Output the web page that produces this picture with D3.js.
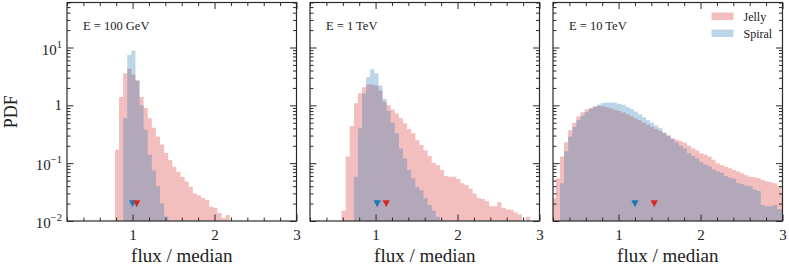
<!DOCTYPE html>
<html><head><meta charset="utf-8">
<script src="https://cdn.jsdelivr.net/npm/d3@7"></script>
<style>
body{margin:0;background:#fff}
svg text{font-family:"Liberation Serif","Times New Roman",serif;fill:#222}
</style></head><body><svg id="c" width="789" height="271"></svg>
<script>
// ---------- data ----------
const panelTitles = ["E = 100 GeV", "E = 1 TeV", "E = 10 TeV"];
const seriesNames = ["Jelly", "Spiral"];
const binWidth = 0.05;

const jelly100Start = 0.785;
const jelly100 = [0.17, 1.4, 3.6, 4.3, 3.4, 2.7, 1.4, 0.9, 0.6, 0.41, 0.29, 0.21, 0.15, 0.113, 0.087, 0.071, 0.058, 0.048, 0.039, 0.030, 0.028, 0.025, 0.023, 0.0177, 0.017, 0.0137, 0.0113, 0.0127];
const spiral100Start = 0.885;
const spiral100 = [0.6, 7.4, 8.8, 2.7, 1.0, 0.38, 0.14, 0.075, 0.04, 0.02, 0.012];

const jelly1Start = 0.585;
const jelly1 = [0.015, 0.13, 0.44, 1.09, 1.62, 2.06, 2.3, 2.3, 2.2, 1.8, 1.15, 1.0, 0.85, 0.72, 0.60, 0.49, 0.39, 0.33, 0.25, 0.207, 0.165, 0.133, 0.102, 0.093, 0.076, 0.060, 0.058, 0.058, 0.053, 0.045, 0.042, 0.036, 0.030, 0.025, 0.024, 0.022, 0.018, 0.018, 0.021, 0.017, 0.016, 0.0155, 0.014, 0.013, 0.0095, 0.0118];
const spiral1Start = 0.735;
const spiral1 = [0.058, 0.40, 1.6, 3.1, 4.2, 3.6, 2.2, 1.3, 0.8, 0.5, 0.33, 0.18, 0.12, 0.076, 0.055, 0.039, 0.034, 0.025, 0.019, 0.015, 0.0118];

const jelly10Start = 0.185;
const jelly10 = [0.025, 0.055, 0.13, 0.23, 0.37, 0.50, 0.64, 0.76, 0.85, 0.90, 0.95, 0.97, 0.96, 0.93, 0.89, 0.84, 0.80, 0.75, 0.70, 0.65, 0.60, 0.55, 0.50, 0.46, 0.42, 0.39, 0.36, 0.33, 0.30, 0.27, 0.255, 0.24, 0.226, 0.20, 0.18, 0.165, 0.148, 0.14, 0.13, 0.115, 0.10, 0.093, 0.087, 0.082, 0.076, 0.072, 0.067, 0.062, 0.058, 0.057, 0.055, 0.051, 0.048, 0.047, 0.045, 0.040, 0.030, 0.031];
const spiral10Start = 0.285;
const spiral10 = [0.045, 0.16, 0.29, 0.42, 0.55, 0.66, 0.76, 0.86, 0.95, 1.03, 1.10, 1.12, 1.12, 1.11, 1.07, 1.02, 0.94, 0.86, 0.78, 0.70, 0.62, 0.55, 0.50, 0.45, 0.40, 0.34, 0.30, 0.26, 0.23, 0.20, 0.18, 0.15, 0.135, 0.12, 0.105, 0.095, 0.088, 0.078, 0.072, 0.068, 0.060, 0.056, 0.054, 0.045, 0.043, 0.041, 0.040, 0.035, 0.033, 0.019, 0.018, 0.018, 0.019, 0.016, 0.016];

const medianJelly = [1.05, 1.13, 1.435];
const medianSpiral = [1.0, 1.02, 1.2];
const markerLevel = 0.02;

const xTickValues = [1, 2, 3];
const yTickValues = [0.01, 0.1, 1, 10];
const yTickBase = ["10", "10", "1", "10"];
const yTickExp = ["\u22122", "\u22121", "", "1"];
const xDomain = [0.2, 3];
const yDomain = [0.01, 60];
const xLabel = "flux / median";
const yLabel = "PDF";

const jellyData = [[jelly100Start, jelly100], [jelly1Start, jelly1], [jelly10Start, jelly10]];
const spiralData = [[spiral100Start, spiral100], [spiral1Start, spiral1], [spiral10Start, spiral10]];

// ---------- layout ----------
const colJelly = "#d62728", colSpiral = "#1f77b4";
const panelLeft = [67, 310, 553];
const panelW = 229.5, plotTop = 2.5, plotBottom = 221;
const svg = d3.select("#c");
const axisCol = "#2a2a2a";

const y = d3.scaleLog().domain(yDomain).range([plotBottom, plotTop]);
const minorX = d3.range(0.2, 3.0001, 0.2).map(v => +v.toFixed(2)).filter(v => Math.abs(v - Math.round(v)) > 1e-6);
const minorY = [];
[0.01, 0.1, 1, 10].forEach(d => { for (let k = 2; k <= 9; k++) { const v = k * d; if (v <= yDomain[1]) minorY.push(v); } });

function histPath(start, vals, x) {
  const floor = 1e-3;
  const pts = [[start, floor]];
  vals.forEach((v, i) => {
    const a = start + i * binWidth, b = a + binWidth, vv = v > 0 ? v : floor;
    pts.push([a, vv], [b, vv]);
  });
  pts.push([start + vals.length * binWidth, floor]);
  return d3.line().x(d => x(d[0])).y(d => y(d[1]))(pts) + "Z";
}

function styleAxis(g) {
  g.select(".domain").remove();
  g.selectAll(".tick line").attr("stroke", axisCol).attr("stroke-width", 1);
}

panelTitles.forEach((title, p) => {
  const x0 = panelLeft[p];
  const x = d3.scaleLinear().domain(xDomain).range([x0, x0 + panelW]);
  const g = svg.append("g");
  const clipId = "clip" + p;
  svg.append("clipPath").attr("id", clipId).append("rect")
    .attr("x", x0).attr("y", plotTop).attr("width", panelW).attr("height", plotBottom - plotTop);

  const hg = g.append("g").attr("clip-path", `url(#${clipId})`);
  hg.append("path").attr("d", histPath(jellyData[p][0], jellyData[p][1], x))
    .attr("fill", colJelly).attr("fill-opacity", 0.3);
  hg.append("path").attr("d", histPath(spiralData[p][0], spiralData[p][1], x))
    .attr("fill", colSpiral).attr("fill-opacity", 0.3);

  // markers (downward triangles)
  const tri = (cx, cy) => `M${cx - 3.6},${cy - 3.4}L${cx + 3.6},${cy - 3.4}L${cx},${cy + 3.6}Z`;
  g.append("path").attr("d", tri(x(medianSpiral[p]), y(markerLevel))).attr("fill", colSpiral);
  g.append("path").attr("d", tri(x(medianJelly[p]), y(markerLevel))).attr("fill", colJelly);

  // x axes
  const gb = g.append("g").attr("transform", `translate(0,${plotBottom})`)
    .call(d3.axisBottom(x).tickValues(xTickValues).tickSize(-6.5).tickFormat(d3.format("d")));
  styleAxis(gb);
  gb.selectAll("text").attr("y", 19).attr("dy", 0).attr("font-size", 15).attr("font-family", "Liberation Serif").attr("fill", "#222");
  const gbm = g.append("g").attr("transform", `translate(0,${plotBottom})`)
    .call(d3.axisBottom(x).tickValues(minorX).tickSize(-3.5).tickFormat(""));
  styleAxis(gbm);
  const gt = g.append("g").attr("transform", `translate(0,${plotTop})`)
    .call(d3.axisTop(x).tickValues(xTickValues).tickSize(-6.5).tickFormat(""));
  styleAxis(gt);
  const gtm = g.append("g").attr("transform", `translate(0,${plotTop})`)
    .call(d3.axisTop(x).tickValues(minorX).tickSize(-3.5).tickFormat(""));
  styleAxis(gtm);

  // y axes
  [[d3.axisLeft, x0], [d3.axisRight, x0 + panelW]].forEach(([ax, tx]) => {
    const a = g.append("g").attr("transform", `translate(${tx},0)`)
      .call(ax(y).tickValues(yTickValues).tickSize(-6.5).tickFormat(""));
    styleAxis(a);
    const am = g.append("g").attr("transform", `translate(${tx},0)`)
      .call(ax(y).tickValues(minorY).tickSize(-3.5).tickFormat(""));
    styleAxis(am);
  });

  // frame
  g.append("rect").attr("x", x0).attr("y", plotTop).attr("width", panelW).attr("height", plotBottom - plotTop)
    .attr("fill", "none").attr("stroke", axisCol).attr("stroke-width", 1.2);

  // title
  g.append("text").attr("x", x0 + 16).attr("y", 30).attr("font-size", 12.5).text(title);

  // x label
  g.append("text").attr("x", x0 + panelW / 2).attr("y", 262).attr("text-anchor", "middle")
    .attr("font-size", 19).text(xLabel);

  // y tick labels on first panel
  if (p === 0) {
    yTickValues.forEach((v, i) => {
      const t = g.append("text").attr("x", x0 - 5).attr("text-anchor", "end").attr("font-size", 15)
        .attr("y", y(v) + (yTickExp[i] ? 7 : 5));
      t.append("tspan").text(yTickBase[i]);
      if (yTickExp[i]) t.append("tspan").attr("dy", -7).attr("font-size", 10.5).text(yTickExp[i]);
    });
    g.append("text").attr("transform", `translate(17,${(plotTop + plotBottom) / 2}) rotate(-90)`)
      .attr("text-anchor", "middle").attr("font-size", 18).text(yLabel);
  }

  // legend on last panel
  if (p === 2) {
    const lx = x0 + panelW - 71;
    [[colJelly, 0], [colSpiral, 1]].forEach(([c, i]) => {
      const ly = 12.5 + i * 17;
      g.append("rect").attr("x", lx).attr("y", ly).attr("width", 22).attr("height", 7.5)
        .attr("fill", c).attr("fill-opacity", 0.3);
      g.append("text").attr("x", lx + 32).attr("y", ly + 8).attr("font-size", 12).text(seriesNames[i]);
    });
  }
});
</script></body></html>
